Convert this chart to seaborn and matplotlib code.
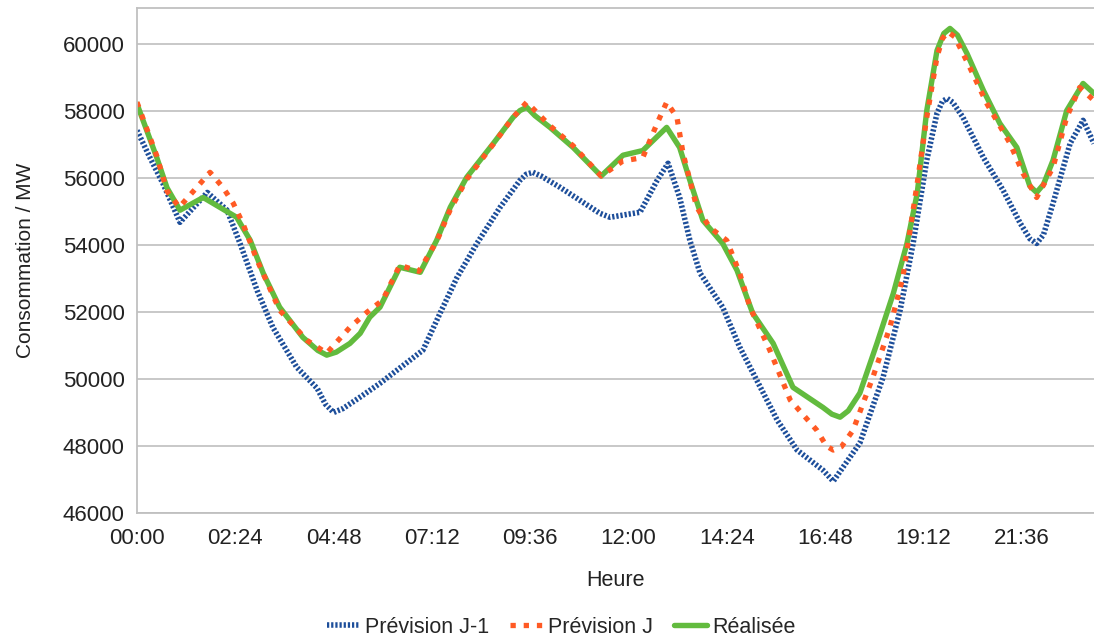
import pandas as pd
import seaborn as sns
import matplotlib.pyplot as plt

# values (time of day -> MW)
t_j1 = ["00:00", "00:19", "00:38", "01:03", "01:43", "02:12", "02:31", "02:56", "03:19", "03:54",
        "04:24", "04:36", "04:48", "05:02", "05:27", "05:56", "06:40", "06:59", "07:24", "07:49",
        "08:18", "08:52", "09:21", "09:30", "09:40", "09:52", "10:20", "11:18", "11:33", "12:17",
        "12:42", "12:58", "13:15", "13:30", "13:45", "14:18", "14:43", "15:08", "15:38", "16:07",
        "16:45", "17:00", "17:39", "18:13", "18:38", "18:57", "19:17", "19:32", "19:40", "19:47",
        "19:55", "20:10", "20:40", "21:09", "21:34", "21:48", "21:58", "22:08", "22:22", "22:47",
        "23:06", "23:22"]
prev_j1 = [57410, 56600, 55830, 54670, 55560, 55030, 54040, 52640, 51540, 50350,
           49720, 49250, 49000, 49120, 49460, 49870, 50560, 50860, 51960, 53030,
           54040, 55120, 55920, 56100, 56160, 56050, 55710, 54940, 54820, 54970,
           55920, 56430, 55410, 54130, 53150, 52140, 50950, 49960, 48770, 47880,
           47280, 46950, 48090, 50050, 52050, 54040, 56520, 57920, 58280, 58360,
           58250, 57800, 56600, 55620, 54640, 54180, 54040, 54300, 55240, 57020,
           57710, 57020]

t_j = ["00:00", "00:29", "00:44", "01:02", "01:47", "02:06", "02:21", "02:35", "02:56", "03:29",
       "04:09", "04:38", "05:12", "05:37", "06:00", "06:25", "06:53", "07:19", "07:39", "08:03",
       "08:42", "09:11", "09:31", "10:05", "10:39", "11:20", "11:52", "12:21", "12:42", "12:56",
       "13:11", "13:20", "13:40", "13:59", "14:24", "14:43", "14:58", "15:27", "15:57", "16:36",
       "16:50", "17:00", "17:12", "17:29", "17:58", "18:23", "18:42", "19:03", "19:17", "19:32",
       "19:40", "19:48", "19:58", "20:20", "20:45", "21:19", "21:38", "21:58", "22:22", "22:42",
       "23:01", "23:22"]
prev_j = [58250, 56650, 55600, 55120, 56160, 55710, 55240, 54640, 53540, 52050,
          51150, 50770, 51540, 51990, 52350, 53390, 53210, 54100, 55050, 55950,
          57000, 57800, 58250, 57550, 56950, 56050, 56500, 56600, 57620, 58250,
          57800, 56720, 55120, 54520, 54130, 53150, 52140, 50860, 49370, 48470,
          48000, 47880, 47980, 48470, 50050, 51540, 53030, 55830, 57800, 59600,
          60150, 60350, 60200, 59290, 58210, 57020, 56130, 55410, 56310, 57800,
          58690, 58300]

t_real = ["00:00", "00:29", "00:44", "01:03", "01:37", "02:26", "02:46", "03:05", "03:29", "04:03",
          "04:25", "04:38", "04:52", "05:12", "05:27", "05:41", "05:56", "06:25", "06:55", "07:19",
          "07:39", "08:03", "08:42", "09:11", "09:21", "09:31", "09:43", "10:05", "10:39", "11:20",
          "11:52", "12:21", "12:56", "13:15", "13:30", "13:49", "14:18", "14:39", "15:02", "15:32",
          "16:01", "16:45", "16:58", "17:10", "17:22", "17:39", "18:04", "18:28", "18:48", "19:03",
          "19:17", "19:32", "19:42", "19:51", "20:02", "20:16", "20:40", "21:04", "21:29", "21:48",
          "21:58", "22:08", "22:22", "22:42", "23:06", "23:22"]
realisee = [58200, 56600, 55700, 55030, 55410, 54820, 54130, 53150, 52140, 51240,
            50850, 50710, 50800, 51060, 51360, 51840, 52140, 53330, 53180, 54130,
            55120, 56010, 57020, 57800, 58000, 58100, 57850, 57500, 56900, 56050,
            56670, 56810, 57500, 56900, 55920, 54730, 54040, 53240, 51960, 51060,
            49750, 49150, 48950, 48860, 49050, 49580, 51060, 52550, 54040, 55530,
            58000, 59790, 60300, 60450, 60250, 59700, 58600, 57620, 56900, 55750,
            55560, 55800, 56520, 58000, 58810, 58510]

tick_labels = ["00:00", "02:24", "04:48", "07:12", "09:36", "12:00", "14:24", "16:48", "19:12", "21:36"]


def minutes(times):
    return [int(s[:2]) * 60 + int(s[3:]) for s in times]


df_j1 = pd.DataFrame({"t": minutes(t_j1), "MW": prev_j1})
df_j = pd.DataFrame({"t": minutes(t_j), "MW": prev_j})
df_r = pd.DataFrame({"t": minutes(t_real), "MW": realisee})

sns.set_style("white")
plt.rcParams["font.family"] = ["Liberation Sans", "DejaVu Sans"]

fig = plt.figure(figsize=(10.94, 6.39), dpi=100)
ax = fig.add_axes([0.1252, 0.197, 0.8748, 0.79])

blue = "#1d4e9a"
red = "#ff5a24"
green = "#62bb3e"

sns.lineplot(data=df_j1, x="t", y="MW", ax=ax, color=blue, linewidth=4.0,
             linestyle=(0, (0.4, 0.35)), dash_capstyle="butt", label="Prévision J-1")
sns.lineplot(data=df_r, x="t", y="MW", ax=ax, color=green, linewidth=3.9,
             solid_joinstyle="round", label="Réalisée")
sns.lineplot(data=df_j, x="t", y="MW", ax=ax, color=red, linewidth=3.8,
             linestyle=(0, (1.0, 1.5)), dash_capstyle="butt", label="Prévision J")

ax.set_xlim(0, 1402)
ax.set_ylim(46000, 61050)
ax.set_xticks(minutes(tick_labels))
ax.set_xticklabels(tick_labels)
ax.set_yticks(range(46000, 60001, 2000))

ax.grid(axis="y", color="#c4c4c4", linewidth=1.3)
ax.grid(axis="x", visible=False)
ax.spines["right"].set_visible(False)
for side in ["left", "bottom", "top"]:
    ax.spines[side].set_color("#c0c0c0")
    ax.spines[side].set_linewidth(1.3)
ax.tick_params(axis="both", length=6, width=1.3, color="#b8b8b8",
               labelsize=16, labelcolor="#222222", pad=3)
ax.tick_params(axis="x", pad=5)

ax.set_xlabel("Heure", fontsize=15.5, color="#222222", labelpad=15)
ax.set_ylabel("Consommation / MW", fontsize=15, color="#222222", labelpad=20)

handles, labels = ax.get_legend_handles_labels()
order = [labels.index(l) for l in ["Prévision J-1", "Prévision J", "Réalisée"]]
ax.legend_.remove()
fig.legend([handles[i] for i in order], [labels[i] for i in order],
           loc="lower center", bbox_to_anchor=(0.513, -0.028), ncol=3, frameon=False,
           fontsize=15.5, handlelength=1.5, handletextpad=0.25, columnspacing=1.0)

fig.savefig("out.png", dpi=100)
